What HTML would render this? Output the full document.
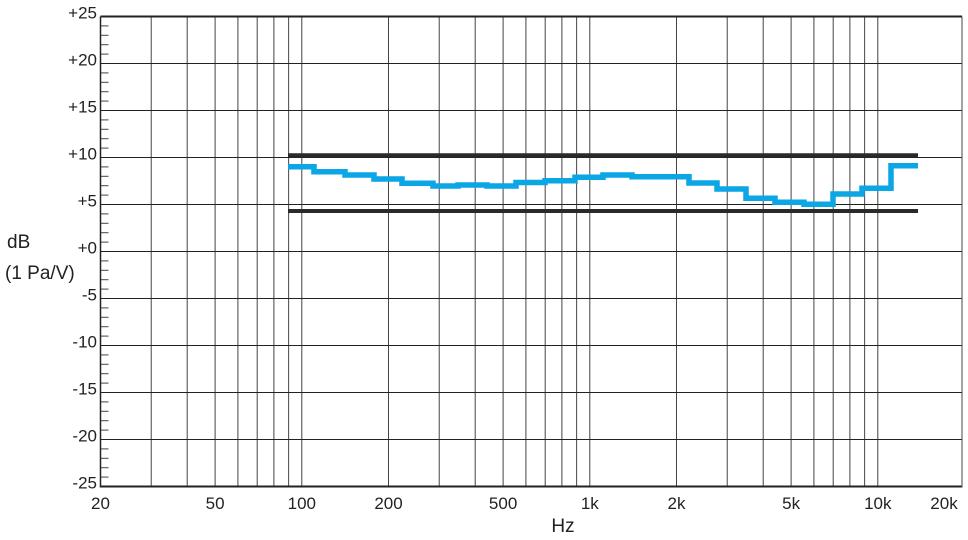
<!DOCTYPE html>
<html><head><meta charset="utf-8"><style>
html,body{margin:0;padding:0;background:#fff;width:968px;height:540px;overflow:hidden}
svg{display:block}
text{font-family:"Liberation Sans",sans-serif;fill:#222}
.n{font-family:"Liberation Sans Narrow","Liberation Sans",sans-serif}
</style></head><body>
<svg id="s" width="968" height="540" xmlns="http://www.w3.org/2000/svg"></svg>
<script>
const s=document.getElementById('s');let h='';
const L=100.5,R=962,T=16.5,B=487.5,D=288;
const X=f=>L+Math.log10(f/20)*D;
const Y=v=>251.5-v*9.4;
const fs=[30,40,50,60,70,80,90,100,200,300,400,500,600,700,800,900,1000,2000,3000,4000,5000,6000,7000,8000,9000,10000,20000];
for(const f of fs){const x=X(f);if(x<R)h+=`<line x1="${x}" y1="${T}" x2="${x}" y2="${B}" stroke="#444" stroke-width="1"/>`;}
for(let v=-25;v<=25;v++){const y=Y(v);
 if(v%5==0){h+=`<line x1="${L}" y1="${y}" x2="${R}" y2="${y}" stroke="#222" stroke-width="${(v==25||v==-25)?2:1}"/>`;
  h+=`<text x="97" y="${y+2}" font-size="17" text-anchor="end">${v>0?'+'+v:(v==0?'+0':v)}</text>`;}
 else h+=`<line x1="${L}" y1="${y}" x2="${L+8}" y2="${y}" stroke="#444" stroke-width="1"/>`;}
h+=`<line x1="${L}" y1="${T}" x2="${L}" y2="${B}" stroke="#222" stroke-width="1.5"/>`;
h+=`<line x1="${R}" y1="${T}" x2="${R}" y2="${B}" stroke="#444" stroke-width="1"/>`;
h+=`<line x1="288" y1="155.3" x2="918" y2="155.3" stroke="#2a2a2a" stroke-width="4"/>`;
h+=`<line x1="288" y1="211" x2="918" y2="211" stroke="#2a2a2a" stroke-width="4"/>`;
const st=[[288,166.7],[314,171.7],[345,175],[374,179],[402,183.3],[433,186],[458,185],[487,186],[516,182.5],[545,180.7],[575,177.3],[603,175],[632,176.7],[689,183],[717,189],[746,198.3],[775,202.3],[804,204.3],[833,194],[862,188.3],[891,165.7],[918,165.7]];
let p=`M${st[0][0]} ${st[0][1]}`;
for(let i=1;i<st.length;i++){p+=` H${st[i][0]}`;if(i<st.length-1)p+=` V${st[i][1]}`;}
h+=`<path d="${p}" fill="none" stroke="#0aa6e6" stroke-width="5.5" stroke-linejoin="miter"/>`;
const xl=[[20,'20'],[50,'50'],[100,'100'],[200,'200'],[500,'500'],[1000,'1k'],[2000,'2k'],[5000,'5k'],[10000,'10k']];
for(const [f,t] of xl)h+=`<text x="${X(f)}" y="509" font-size="17" text-anchor="middle">${t}</text>`;
h+=`<text x="944" y="509" font-size="17" text-anchor="middle">20k</text>`;
h+=`<text class="n" x="563" y="532" font-size="19" text-anchor="middle">Hz</text>`;
h+=`<text class="n" x="7" y="248" font-size="19">dB</text>`;
h+=`<text class="n" x="5" y="279" font-size="19">(1 Pa/V)</text>`;
s.innerHTML=h;
</script>
</body></html>
